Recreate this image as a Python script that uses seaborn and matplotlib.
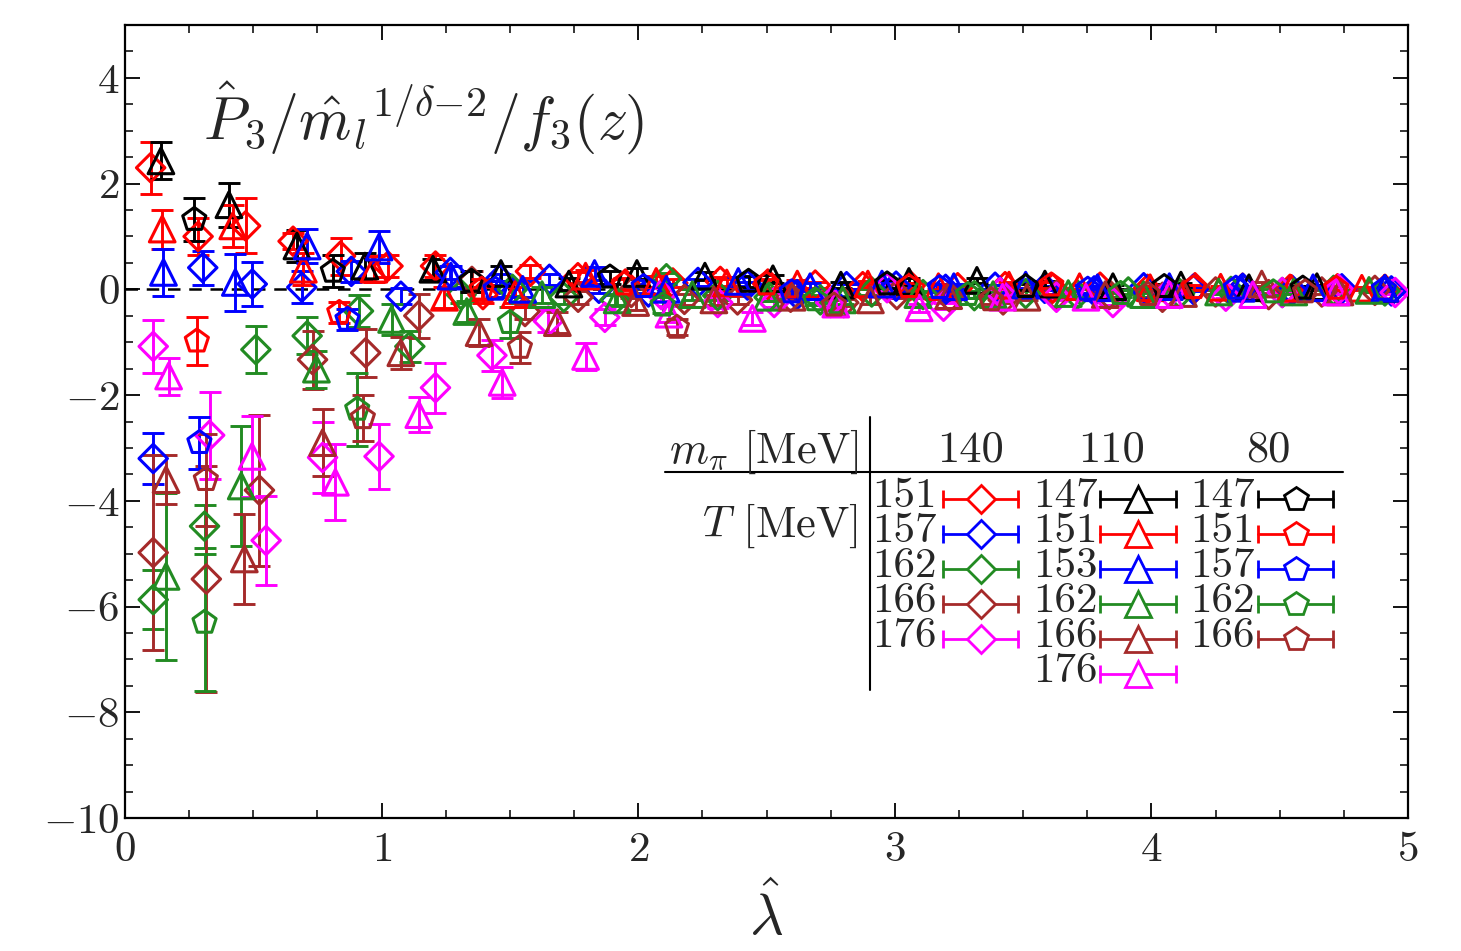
import matplotlib
matplotlib.use("Agg")
from matplotlib import pyplot as plt
from matplotlib.ticker import MultipleLocator
import seaborn as sns

# m_pi = 140 MeV (diamonds)
x_140_151 = [0.10, 0.285, 0.47, 0.655, 0.84, 1.025, 1.21, 1.395, 1.58, 1.765, 1.95, 2.135, 2.32, 2.505,
             2.69, 2.875, 3.06, 3.245, 3.43, 3.615, 3.80, 3.985, 4.17, 4.355, 4.54, 4.725, 4.91]
y_140_151 = [2.30, 1.00, 1.20, 0.91, 0.63, 0.44, 0.44, -0.10, 0.34, 0.22, 0.10, 0.12, 0.15, 0.10,
             0.08, 0.05, 0.07, 0.03, 0.05, 0.02, 0.04, 0.00, 0.03, 0.02, 0.00, 0.01, 0.00]
e_140_151 = [0.49, 0.35, 0.52, 0.15, 0.35, 0.20, 0.20, 0.15, 0.12, 0.10, 0.10, 0.08, 0.08, 0.07,
             0.06, 0.05, 0.05, 0.04, 0.04, 0.04, 0.03, 0.03, 0.03, 0.03, 0.03, 0.03, 0.03]

x_140_157 = [0.11, 0.303, 0.496, 0.689, 0.882, 1.075, 1.268, 1.461, 1.654, 1.847, 2.04, 2.233, 2.426,
             2.619, 2.812, 3.005, 3.198, 3.391, 3.584, 3.777, 3.97, 4.163, 4.356, 4.549, 4.742, 4.935]
y_140_157 = [-3.20, 0.41, 0.10, 0.04, 0.34, -0.13, 0.32, 0.19, 0.19, 0.02, -0.05, 0.13, 0.08,
             -0.10, 0.05, 0.06, 0.00, 0.04, 0.02, -0.03, 0.03, 0.00, 0.02, -0.02, 0.01, -0.03]
e_140_157 = [0.48, 0.32, 0.41, 0.30, 0.20, 0.15, 0.12, 0.10, 0.10, 0.08, 0.08, 0.07, 0.06,
             0.06, 0.05, 0.05, 0.04, 0.04, 0.04, 0.03, 0.03, 0.03, 0.03, 0.03, 0.03, 0.03]

x_140_162 = [0.11, 0.31, 0.51, 0.71, 0.91, 1.11, 1.31, 1.51, 1.71, 1.91, 2.11, 2.31, 2.51,
             2.71, 2.91, 3.11, 3.31, 3.51, 3.71, 3.91, 4.11, 4.31, 4.51, 4.71, 4.91]
y_140_162 = [-5.87, -4.48, -1.14, -0.88, -0.41, -1.08, -0.10, 0.00, -0.15, -0.20, 0.20, -0.12, -0.15,
             -0.20, -0.05, -0.10, -0.12, -0.08, -0.10, -0.05, -0.08, -0.04, -0.06, -0.02, -0.03]
e_140_162 = [0.56, 0.41, 0.45, 0.35, 0.30, 0.30, 0.15, 0.12, 0.12, 0.10, 0.10, 0.08, 0.07,
             0.06, 0.06, 0.05, 0.05, 0.04, 0.04, 0.04, 0.03, 0.03, 0.03, 0.03, 0.03]

x_140_166 = [0.11, 0.317, 0.524, 0.731, 0.938, 1.145, 1.352, 1.559, 1.766, 1.973, 2.18, 2.387,
             2.594, 2.801, 3.008, 3.215, 3.422, 3.629, 3.836, 4.043, 4.25, 4.457, 4.664, 4.871]
y_140_166 = [-4.98, -5.48, -3.80, -1.33, -1.20, -0.50, 0.15, -0.42, -0.15, -0.06, -0.19, -0.20,
             -0.15, -0.25, -0.10, -0.15, -0.20, -0.12, -0.10, -0.15, -0.05, -0.10, -0.05, -0.02]
e_140_166 = [1.84, 2.13, 1.43, 0.55, 0.45, 0.42, 0.20, 0.15, 0.12, 0.10, 0.10, 0.08,
             0.07, 0.06, 0.06, 0.05, 0.05, 0.04, 0.04, 0.04, 0.03, 0.03, 0.03, 0.03]

x_140_176 = [0.11, 0.33, 0.55, 0.77, 0.99, 1.21, 1.43, 1.65, 1.87, 2.09, 2.31, 2.53,
             2.75, 2.97, 3.19, 3.41, 3.63, 3.85, 4.07, 4.29, 4.51, 4.73, 4.95]
y_140_176 = [-1.08, -2.76, -4.75, -3.18, -3.16, -1.86, -1.25, -0.60, -0.53, -0.10, -0.25, -0.25,
             -0.25, 0.03, -0.32, -0.06, -0.15, -0.25, -0.06, -0.13, -0.06, 0.00, -0.06]
e_140_176 = [0.50, 0.82, 0.84, 0.67, 0.61, 0.47, 0.30, 0.20, 0.15, 0.12, 0.10, 0.08,
             0.08, 0.07, 0.06, 0.05, 0.05, 0.04, 0.04, 0.04, 0.03, 0.03, 0.03]

# m_pi = 110 MeV (triangles)
x_110_147 = [0.14, 0.405, 0.67, 0.935, 1.2, 1.465, 1.73, 1.995, 2.26, 2.525, 2.79, 3.055, 3.32,
             3.585, 3.85, 4.115, 4.38, 4.645, 4.91]
y_110_147 = [2.43, 1.60, 0.82, 0.44, 0.38, 0.30, 0.10, 0.30, 0.25, 0.20, 0.08, 0.15, 0.17,
             0.10, 0.05, 0.08, 0.03, 0.05, 0.02]
e_110_147 = [0.35, 0.42, 0.30, 0.25, 0.20, 0.15, 0.12, 0.10, 0.08, 0.08, 0.06, 0.06, 0.05,
             0.05, 0.04, 0.04, 0.03, 0.03, 0.03]

x_110_151 = [0.145, 0.42, 0.695, 0.97, 1.245, 1.52, 1.795, 2.07, 2.345, 2.62, 2.895, 3.17,
             3.445, 3.72, 3.995, 4.27, 4.545, 4.82]
y_110_151 = [1.14, 1.20, 0.38, 0.38, -0.15, -0.10, 0.25, 0.15, 0.12, 0.10, 0.10, 0.05,
             0.08, 0.05, 0.03, 0.04, 0.02, 0.02]
e_110_151 = [0.37, 0.40, 0.30, 0.25, 0.20, 0.15, 0.12, 0.10, 0.08, 0.07, 0.06, 0.05,
             0.05, 0.04, 0.04, 0.03, 0.03, 0.03]

x_110_153 = [0.15, 0.43, 0.71, 0.99, 1.27, 1.55, 1.83, 2.11, 2.39, 2.67, 2.95, 3.23,
             3.51, 3.79, 4.07, 4.35, 4.63, 4.91]
y_110_153 = [0.32, 0.13, 0.82, 0.80, 0.25, 0.00, 0.30, 0.00, 0.15, 0.05, 0.10, 0.05,
             0.08, 0.03, 0.05, 0.02, 0.03, 0.02]
e_110_153 = [0.44, 0.54, 0.32, 0.30, 0.20, 0.15, 0.12, 0.10, 0.08, 0.07, 0.06, 0.05,
             0.05, 0.04, 0.04, 0.03, 0.03, 0.03]

x_110_162 = [0.16, 0.453, 0.746, 1.039, 1.332, 1.625, 1.918, 2.211, 2.504, 2.797, 3.09, 3.383,
             3.676, 3.969, 4.262, 4.555, 4.848]
y_110_162 = [-5.43, -3.72, -1.51, -0.57, -0.42, -0.10, -0.20, -0.10, -0.15, -0.20, -0.10, -0.10,
             -0.08, -0.10, -0.05, -0.05, -0.02]
e_110_162 = [1.58, 1.13, 0.35, 0.30, 0.20, 0.15, 0.12, 0.10, 0.08, 0.07, 0.06, 0.05,
             0.05, 0.04, 0.04, 0.03, 0.03]

x_110_166 = [0.16, 0.465, 0.77, 1.075, 1.38, 1.685, 1.99, 2.295, 2.6, 2.905, 3.21, 3.515,
             3.82, 4.125, 4.43, 4.735]
y_110_166 = [-3.60, -5.10, -2.90, -1.20, -0.82, -0.63, -0.25, -0.20, -0.15, -0.20, -0.12, -0.15,
             -0.10, -0.08, 0.10, -0.05]
e_110_166 = [0.46, 0.85, 0.63, 0.30, 0.25, 0.20, 0.15, 0.10, 0.08, 0.07, 0.06, 0.05,
             0.05, 0.04, 0.04, 0.03]

x_110_176 = [0.17, 0.495, 0.82, 1.145, 1.47, 1.795, 2.12, 2.445, 2.77, 3.095, 3.42, 3.745,
             4.07, 4.395, 4.72]
y_110_176 = [-1.64, -3.16, -3.65, -2.37, -1.76, -1.27, -0.47, -0.55, -0.28, -0.35, -0.15, -0.15,
             -0.10, -0.10, -0.05]
e_110_176 = [0.35, 0.77, 0.72, 0.33, 0.30, 0.25, 0.15, 0.12, 0.10, 0.08, 0.07, 0.06,
             0.05, 0.05, 0.04]

# m_pi = 80 MeV (pentagons)
x_80_147 = [0.27, 0.81, 1.35, 1.89, 2.43, 2.97, 3.51, 4.05, 4.59]
y_80_147 = [1.32, 0.34, 0.15, 0.23, 0.15, 0.10, 0.05, 0.05, 0.02]
e_80_147 = [0.40, 0.30, 0.20, 0.12, 0.10, 0.07, 0.06, 0.05, 0.04]

x_80_151 = [0.28, 0.835, 1.39, 1.945, 2.5, 3.055, 3.61, 4.165, 4.72]
y_80_151 = [-0.98, -0.44, 0.00, 0.10, 0.10, 0.05, 0.08, 0.03, 0.02]
e_80_151 = [0.45, 0.20, 0.20, 0.12, 0.10, 0.07, 0.06, 0.05, 0.04]

x_80_157 = [0.29, 0.867, 1.444, 2.021, 2.598, 3.175, 3.752, 4.329, 4.906]
y_80_157 = [-2.90, -0.57, 0.00, 0.05, -0.05, 0.03, 0.00, 0.02, 0.00]
e_80_157 = [0.49, 0.20, 0.15, 0.12, 0.10, 0.07, 0.06, 0.05, 0.04]

x_80_162 = [0.31, 0.905, 1.5, 2.095, 2.69, 3.285, 3.88, 4.475]
y_80_162 = [-6.30, -2.27, -0.63, -0.30, -0.20, -0.10, -0.08, -0.05]
e_80_162 = [1.29, 0.69, 0.30, 0.15, 0.10, 0.07, 0.06, 0.05]

x_80_166 = [0.315, 0.927, 1.539, 2.151, 2.763, 3.375, 3.987, 4.599]
y_80_166 = [-3.60, -2.43, -1.10, -0.72, -0.30, -0.20, -0.10, -0.05]
e_80_166 = [0.87, 0.44, 0.30, 0.15, 0.10, 0.07, 0.06, 0.05]

mpi_labels = ["140", "110", "80"]
temps_140 = ["151", "157", "162", "166", "176"]
temps_110 = ["147", "151", "153", "162", "166", "176"]
temps_80 = ["147", "151", "157", "162", "166"]

colors_140 = {"151": "red", "157": "blue", "162": "forestgreen", "166": "brown", "176": "magenta"}
colors_110 = {"147": "black", "151": "red", "153": "blue", "162": "forestgreen", "166": "brown",
              "176": "magenta"}
colors_80 = {"147": "black", "151": "red", "157": "blue", "162": "forestgreen", "166": "brown"}

data_140 = [(x_140_151, y_140_151, e_140_151), (x_140_157, y_140_157, e_140_157),
            (x_140_162, y_140_162, e_140_162), (x_140_166, y_140_166, e_140_166),
            (x_140_176, y_140_176, e_140_176)]
data_110 = [(x_110_147, y_110_147, e_110_147), (x_110_151, y_110_151, e_110_151),
            (x_110_153, y_110_153, e_110_153), (x_110_162, y_110_162, e_110_162),
            (x_110_166, y_110_166, e_110_166), (x_110_176, y_110_176, e_110_176)]
data_80 = [(x_80_147, y_80_147, e_80_147), (x_80_151, y_80_151, e_80_151),
           (x_80_157, y_80_157, e_80_157), (x_80_162, y_80_162, e_80_162),
           (x_80_166, y_80_166, e_80_166)]

groups = [
    (temps_140, colors_140, data_140, "D", 14.5),
    (temps_110, colors_110, data_110, "^", 18.5),
    (temps_80, colors_80, data_80, "p", 17.5),
]

sns.set_theme(style="ticks")
plt.rcParams["font.family"] = "cmr10"
plt.rcParams["mathtext.fontset"] = "cm"
plt.rcParams["axes.formatter.use_mathtext"] = True
plt.rcParams["axes.unicode_minus"] = True

fig = plt.figure(figsize=(14.61, 9.51), dpi=100)
ax = fig.add_axes([125 / 1461, 1 - 818 / 951, 1283 / 1461, 793 / 951])

ax.axhline(0, color="black", lw=1.8, ls=(0, (5, 3.5)), zorder=1)

for temps, cmap, data, marker, ms in groups:
    for t, (xs, ys, es) in zip(temps, data):
        c = cmap[t]
        ax.errorbar(xs, ys, yerr=es, fmt="none", ecolor=c, elinewidth=2.1,
                    capsize=8, capthick=2.1, zorder=2)
        sns.scatterplot(x=xs, y=ys, ax=ax, marker=marker, s=ms ** 2,
                        facecolor="none", edgecolor=c, linewidth=2.2, zorder=3)

ax.set_xlim(0, 5)
ax.set_ylim(-10, 5)
ax.xaxis.set_major_locator(MultipleLocator(1))
ax.xaxis.set_minor_locator(MultipleLocator(0.25))
ax.yaxis.set_major_locator(MultipleLocator(2))
ax.yaxis.set_minor_locator(MultipleLocator(0.5))
ax.tick_params(which="both", direction="in", top=True, right=True, labelsize=31, color="black")
ax.tick_params(which="major", length=11, width=1.3)
ax.tick_params(which="minor", length=5.5, width=1.1)
ax.tick_params(axis="x", which="major", pad=10)
ax.tick_params(axis="y", which="major", pad=4)
for sp in ax.spines.values():
    sp.set_linewidth(1.6)
    sp.set_color("black")

ax.set_xlabel(r"$\hat{\lambda}$", fontsize=42, labelpad=10)
ax.text((203 - 125) / 1283, (818 - 140) / 793,
        r"$\hat{P}_3/{\hat{m}_l}^{1/\delta{-}2}/f_3(z)$",
        transform=ax.transAxes, fontsize=43, va="baseline", ha="left")


# legend table, positions in pixels of the figure
def ax_xy(px, py):
    return (px - 125) / 1283, (818 - py) / 793


tr = ax.transAxes
xa, ya = ax_xy(870, 417)
xb, yb = ax_xy(870, 690)
ax.plot([xa, xb], [ya, yb], color="black", lw=1.5, transform=tr, clip_on=False)
xa, ya = ax_xy(665, 472)
xb, yb = ax_xy(1343, 472)
ax.plot([xa, xb], [ya, yb], color="black", lw=1.5, transform=tr, clip_on=False)

tx, ty = ax_xy(858, 463)
ax.text(tx, ty, r"$m_\pi$ [MeV]", transform=tr, fontsize=32, ha="right", va="baseline")
tx, ty = ax_xy(858, 537)
ax.text(tx, ty, r"$T$ [MeV]", transform=tr, fontsize=32, ha="right", va="baseline")

col_num_right = [937, 1098, 1255]
col_line = [(943, 1018), (1100, 1176), (1258, 1333)]
col_head = [970, 1111, 1268]
for k, (temps, cmap, data, marker, ms) in enumerate(groups):
    hx, hy = ax_xy(col_head[k], 462)
    ax.text(hx, hy, mpi_labels[k], transform=tr, fontsize=32, ha="center", va="baseline")
    for i, t in enumerate(temps):
        c = cmap[t]
        nx, ny = ax_xy(col_num_right[k], 507 + 35 * i)
        ax.text(nx, ny, t, transform=tr, fontsize=31, ha="right", va="baseline")
        x1, ly = ax_xy(col_line[k][0], 499 + 35 * i)
        x2, _ = ax_xy(col_line[k][1], 499 + 35 * i)
        ax.plot([x1, x2], [ly, ly], color=c, lw=2, marker="|", ms=13, mew=2, transform=tr)
        ax.plot([(x1 + x2) / 2], [ly], color=c, marker=marker, ms=ms * (0.95 if marker == "D" else 1.0),
                mfc="white", mec=c, mew=2, transform=tr)

fig.savefig("out.png", dpi=100)
